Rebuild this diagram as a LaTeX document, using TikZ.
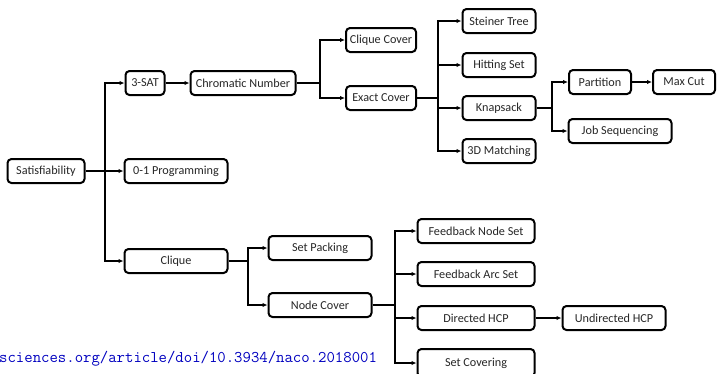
\documentclass[tikz,border=0pt]{standalone}
\usepackage{fontspec}
\setmainfont{Carlito}
\usepackage{tikz}
\usetikzlibrary{arrows.meta, positioning, calc}

\begin{document}
\begin{tikzpicture}[
        x=1pt, y=-1pt,
        node distance=24pt,
        font=\fontsize{12.2}{14}\selectfont,
        block/.style={
            rectangle,
            draw,
            line width=2pt,
            rounded corners=4pt,
            minimum height=24pt,
            inner sep=2pt,
            text=black!85,
            text centered,
            align=center
        },
        line/.style={draw, -{Latex[length=5pt, width=4.5pt]}, line width=1.4pt}
    ]
        \useasboundingbox (0,0) rectangle (720,373);

        % nodes
        \node [block, minimum width=77pt] (sat) at (46,171) {Satisfiability};
        \node [block, minimum width=39pt] (sat3) at (145,83) {3-SAT};
        \node [block, minimum width=105pt, right=of sat3] (chrom) {Chromatic Number};
        \node [block, minimum width=103pt] (prog) at (176,171) {0-1 Programming};
        \node [block, minimum width=103pt] (clique) at (176,261) {Clique};

        \node [block, minimum width=70pt] (cliquecover) at (381,40) {Clique Cover};
        \node [block, minimum width=70pt] (exact) at (381,98) {Exact Cover};

        \node [block, minimum width=73pt] (steiner) at (499,21) {Steiner Tree};
        \node [block, minimum width=73pt] (hitting) at (499,65) {Hitting Set};
        \node [block, minimum width=73pt] (knap) at (499,108) {Knapsack};
        \node [block, minimum width=73pt] (match) at (499,151) {3D Matching};

        \node [block, minimum width=62pt] (part) at (600,82) {Partition};
        \node [block, minimum width=62pt, right=20pt of part] (maxcut) {Max Cut};
        \node [block, minimum width=103pt] (jobseq) at (620,131) {Job Sequencing};

        \node [block, minimum width=103pt] (packing) at (320,248) {Set Packing};
        \node [block, minimum width=103pt] (nodecover) at (320,305) {Node Cover};

        \node [block, minimum width=117pt] (fns) at (476,231) {Feedback Node Set};
        \node [block, minimum width=117pt] (fas) at (476,274) {Feedback Arc Set};
        \node [block, minimum width=117pt] (dhcp) at (476,318) {Directed HCP};
        \node [block, minimum width=103pt, right=26pt of dhcp] (uhcp) {Undirected HCP};
        \node [block, minimum width=117pt, minimum height=28pt] (cover) at (476,363) {Set Covering};

        \node [anchor=base west, inner sep=0pt, text=blue!75!black,
               font=\ttfamily\fontsize{16.3}{17}\selectfont] (url) at (-1,362)
              {sciences.org/article/doi/10.3934/naco.2018001};

        % junctions
        \coordinate (jsat) at (105,171);
        \coordinate (jchrom) at (320,83);
        \coordinate (jexact) at (438,98);
        \coordinate (jknap) at (552,108);
        \coordinate (jclique) at (248,261);
        \coordinate (jnode) at (395,305);

        % paths
        \path [line] (sat) -- (prog);
        \path [line] (jsat) |- (sat3);
        \path [line] (jsat) |- (clique);
        \path [line] (sat3) -- (chrom);

        \path [line] (chrom) -- (jchrom) |- (cliquecover);
        \path [line] (jchrom) |- (exact);

        \path [line] (exact) -- (jexact) |- (steiner);
        \path [line] (jexact) |- (hitting);
        \path [line] (jexact) |- (knap);
        \path [line] (jexact) |- (match);

        \path [line] (knap) -- (jknap) |- (part);
        \path [line] (jknap) |- (jobseq);
        \path [line] (part) -- (maxcut);

        \path [line] (clique) -- (jclique) |- (packing);
        \path [line] (jclique) |- (nodecover);

        \path [line] (nodecover) -- (jnode) |- (fns);
        \path [line] (jnode) |- (fas);
        \path [line] (jnode) |- (dhcp);
        \path [line] (jnode) |- (cover);
        \path [line] (dhcp) -- (uhcp);

    \end{tikzpicture}
\end{document}
